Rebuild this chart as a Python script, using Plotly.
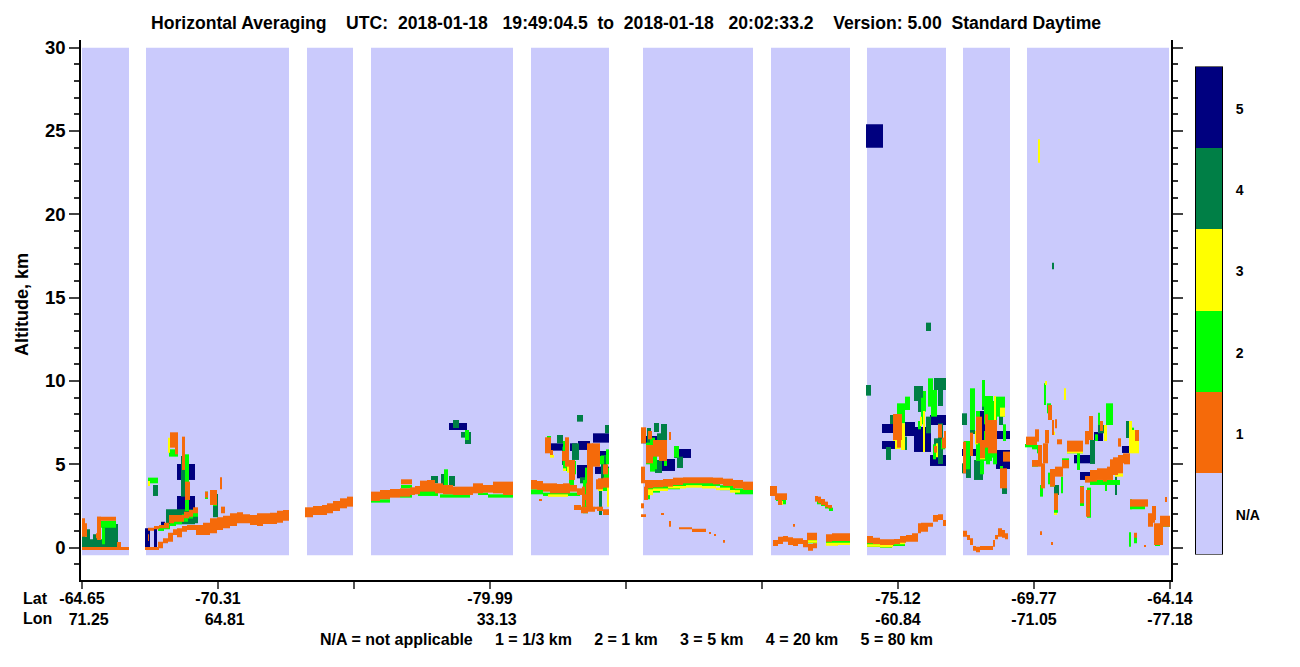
import plotly.graph_objects as go

FONT = "Liberation Sans"
C_NA, C1, C2, C3, C4, C5 = "#CACAFC", "#F56A0A", "#00FF00", "#FFFF00", "#007F46", "#00007F"

# x is the along-track profile position (reference tick spacing 136), y is altitude in km
TICK_X = [82, 218, 354, 490, 626, 762, 898, 1034, 1170]
TICK_LAT = ["-64.65", "-70.31", "", "-79.99", "", "", "-75.12", "-69.77", "-64.14"]
TICK_LON = ["71.25", "64.81", "", "33.13", "", "", "-60.84", "-71.05", "-77.18"]
LEGEND_LABELS = ["N/A", "1", "2", "3", "4", "5"]

PANEL_X0 = [82, 146, 307, 371, 531, 643, 771, 867, 963, 1027]
PANEL_X1 = [129, 289, 353, 513, 609, 753, 850, 946, 1010, 1169]
PANEL_LO = -0.46
PANEL_HI = 30.0

# ---- category 5 (80 km) blocks
B5_X0 = [145, 154, 161, 177, 549, 577, 578, 593, 595, 595, 570, 641, 674, 662, 866, 882, 882, 905, 914, 930, 930,
         962, 978, 996, 996, 449, 1074, 1080, 1094, 1122, 1156]
B5_X1 = [150, 157, 165, 195, 565, 592, 590, 609, 609, 609, 577, 657, 691, 675, 883, 894, 895, 915, 931, 946, 946,
         979, 993, 1010, 1010, 467, 1090, 1090, 1103, 1129, 1163]
B5_LO = [0.04, 0.04, 1.36, 4.06, 5.82, 4.16, 5.86, 6.3, 5.36, 4.42, 5.8, 6.26, 5.38, 4.6, 24.0, 6.88, 5.92, 6.7, 5.74, 7.36, 4.9,
         5.5, 6.06, 6.52, 4.72, 7.06, 5.06, 4.06, 6.4, 5.68, 0.94]
B5_HI = [1.16, 1.16, 1.56, 5.02, 6.26, 4.96, 6.4, 6.86, 5.8, 4.86, 6.26, 6.7, 5.92, 5.32, 25.4, 7.42, 6.4, 7.54, 7.24, 7.96, 5.56,
         5.92, 8.2, 7.0, 5.86, 7.48, 5.56, 4.54, 6.94, 6.1, 1.36]
B5B_X0 = [177]
B5B_X1 = [195]
B5B_LO = [1.96]
B5B_HI = [3.1]

# ---- category 4 (20 km) blocks
G4_X0 = [82, 90, 93, 98, 102, 153, 181, 195, 166, 213, 441, 449, 453, 461, 465, 577, 605, 557, 572, 562, 601, 599, 580,
         654, 661, 657, 647, 655, 677, 866, 886, 914, 918, 926, 934, 938, 938, 934, 890, 903, 926,
         962, 970, 966, 974, 962, 999, 1002, 982, 1054, 1090, 1098, 1126, 1115, 1052, 431]
G4_X1 = [90, 93, 98, 102, 118, 158, 186, 198, 195, 218, 445, 455, 459, 467, 471, 583, 609, 563, 579, 565, 607, 602, 587,
         659, 667, 666, 651, 662, 683, 871, 891, 923, 923, 931, 946, 943, 943, 940, 893, 907, 931,
         967, 975, 971, 983, 966, 1003, 1007, 993, 1059, 1095, 1104, 1130, 1117, 1054, 438]
G4_LO = [0.0, 0.0, 0.0, 0.0, 0.0, 3.1, 3.06, 1.46, 1.4, 1.82, 3.76, 3.7, 7.18, 6.6, 6.22, 7.56, 6.86, 6.26, 5.26, 4.96, 4.06, 1.96, 3.86,
         6.94, 6.46, 5.96, 6.06, 4.48, 4.78, 9.12, 5.26, 8.8, 8.14, 6.86, 9.46, 8.5, 5.02, 5.46, 7.42, 5.86, 13.0,
         7.36, 6.82, 4.18, 4.06, 4.46, 7.36, 3.22, 8.26, 3.16, 5.02, 6.86, 6.58, 3.16, 16.7, 3.86]
G4_HI = [1.1, 0.5, 0.8, 0.5, 1.42, 3.76, 5.5, 1.96, 2.3, 3.22, 4.42, 4.3, 7.66, 6.94, 6.94, 7.96, 7.36, 6.76, 6.26, 6.06, 5.56, 3.56, 4.22,
         7.48, 7.42, 6.86, 7.18, 5.26, 5.46, 9.76, 6.04, 9.7, 8.8, 7.86, 10.18, 9.46, 7.46, 6.56, 7.96, 6.66, 13.5,
         8.06, 7.48, 5.56, 5.26, 5.06, 7.9, 3.66, 9.06, 3.76, 6.46, 7.36, 7.6, 4.26, 17.1, 4.3]

# ---- category 2 (1 km) blocks
L2_X0 = [97, 102, 117, 148, 169, 185, 205, 213, 401, 444, 465, 569, 547, 563, 585, 582, 604, 650, 674, 646, 650,
         897, 905, 928, 931, 923, 970, 982, 984, 995, 976, 990, 964, 984, 1044, 1040, 1032, 1048, 1054, 1061, 1087, 1106, 1130, 1134, 1129, 1080, 1155]
L2_X1 = [116, 105, 121, 158, 178, 189, 208, 217, 412, 448, 469, 574, 551, 569, 589, 586, 609, 655, 679, 650, 655,
         905, 910, 933, 937, 926, 975, 985, 993, 1005, 982, 997, 970, 992, 1046, 1043, 1038, 1051, 1058, 1063, 1091, 1113, 1132, 1137, 1131, 1084, 1160]
L2_LO = [1.2, 0.2, 0.0, 3.86, 5.46, 2.2, 2.92, 2.5, 3.56, 3.76, 6.46, 3.76, 6.0, 4.6, 3.2, 2.1, 3.4, 4.56, 5.4, 2.9, 5.3,
         7.46, 8.26, 8.46, 7.86, 8.16, 7.06, 8.46, 7.4, 7.86, 5.2, 5.4, 4.7, 5.2, 8.56, 3.06, 4.86, 3.8, 2.1, 3.26, 1.8, 7.36, 2.3, 0.26, 0.06, 2.5, 0.1]
L2_HI = [1.62, 1.2, 0.34, 4.2, 5.9, 5.6, 3.36, 3.2, 3.76, 4.7, 7.06, 4.86, 6.7, 6.4, 4.8, 3.4, 4.8, 6.16, 6.1, 3.2, 6.6,
         8.66, 9.06, 10.16, 9.46, 9.4, 9.56, 10.06, 9.1, 9.06, 7.0, 8.8, 6.4, 7.0, 9.86, 3.76, 5.26, 4.5, 3.0, 4.26, 3.6, 8.66, 2.9, 0.82, 0.92, 3.7, 1.0]

# further category 2 detail
L2B_X0 = [158, 164, 170, 176, 182, 188, 193, 1025, 1037, 1047, 1050, 1054, 1062, 1067, 1077, 1080, 1086, 1090, 1105, 1098, 1130, 1163,
          776, 781, 817, 821, 825, 829, 563, 583, 598, 598,
          646, 654, 659, 664, 573, 600, 606, 918, 921, 933, 941, 964, 976, 993, 1003, 1000, 986, 980, 1130, 1095]
L2B_X1 = [164, 170, 176, 182, 188, 193, 198, 1037, 1040, 1051, 1055, 1057, 1069, 1083, 1080, 1084, 1091, 1120, 1107, 1100, 1145, 1170,
          781, 786, 821, 825, 829, 833, 569, 588, 609, 609,
          650, 657, 662, 667, 576, 604, 609, 921, 923, 936, 945, 968, 980, 997, 1006, 1003, 990, 984, 1134, 1098]
L2B_LO = [1.0, 1.1, 1.3, 1.4, 1.55, 1.75, 1.85, 6.02, 5.66, 8.06, 3.66, 1.96, 5.16, 5.66, 4.66, 2.56, 2.66, 3.76, 3.4, 7.36, 2.3, 1.26,
          2.8, 2.6, 2.6, 2.5, 2.35, 2.2, 4.6, 2.06, 3.56, 3.4,
          5.0, 4.7, 5.3, 4.9, 4.4, 5.0, 5.0, 7.1, 7.4, 5.3, 5.9, 5.4, 7.6, 5.0, 6.4, 4.3, 5.0, 4.4, 6.2, 6.4]
L2B_HI = [1.2, 1.4, 1.6, 1.8, 2.0, 2.1, 2.25, 6.22, 6.16, 8.66, 4.26, 2.36, 5.36, 5.86, 6.06, 3.06, 3.46, 4.06, 3.76, 8.1, 2.6, 1.9,
          3.2, 2.9, 2.8, 2.7, 2.55, 2.4, 5.26, 4.06, 3.86, 3.7,
          6.3, 5.6, 6.1, 5.4, 5.2, 5.5, 5.9, 7.6, 9.0, 6.2, 6.5, 6.4, 8.2, 7.6, 7.4, 4.9, 6.1, 6.0, 7.2, 6.8]

# ---- category 3 (5 km) blocks
Y3_X0 = [85, 148, 168, 565, 547, 567, 590, 895, 901, 923, 936, 920, 980, 994, 1000, 1038, 1064, 1104, 1129, 1132, 1114, 975, 1045]
Y3_X1 = [87, 150, 170, 567, 549, 570, 593, 900, 905, 925, 938, 922, 985, 996, 1005, 1040, 1066, 1107, 1132, 1139, 1116, 978, 1047]
Y3_LO = [0.66, 3.7, 5.7, 5.0, 5.7, 4.5, 4.7, 5.92, 5.86, 5.74, 5.42, 7.3, 5.3, 7.46, 7.86, 23.1, 8.86, 6.4, 5.66, 5.66, 4.6, 6.2, 9.76]
Y3_HI = [1.1, 4.0, 6.6, 6.3, 6.4, 4.9, 5.6, 6.56, 7.46, 8.2, 6.26, 7.86, 6.4, 9.1, 8.4, 24.5, 9.56, 7.36, 7.6, 7.06, 5.2, 7.0, 10.0]

# further category 3 detail
Y3B_X0 = [550, 563, 598, 607, 1067, 1052, 1115, 1054, 781, 893]
Y3B_X1 = [554, 566, 603, 609, 1083, 1055, 1123, 1057, 783, 895]
Y3B_LO = [5.4, 4.6, 3.4, 2.46, 5.66, 6.76, 4.26, 1.96, 2.56, 6.4]
Y3B_HI = [5.56, 4.76, 3.56, 3.66, 5.8, 6.96, 4.46, 2.1, 2.8, 7.0]

# ---- category 1 (1/3 km) isolated features
O1_X0 = [82, 82, 82, 96, 97, 97, 117, 145, 148, 170, 175, 182, 185, 205, 210, 220, 221, 401,
         545, 550, 565, 569, 587, 592, 598, 582, 539,
         644, 641, 641, 661, 669, 679, 692, 709, 714, 723, 641, 646, 653, 669,
         893, 938, 942, 976, 988, 980, 1003, 1000, 963,
         793, 1026, 1035, 1038, 1041, 1043, 1045, 1048, 1052, 1055, 1032, 1050, 1055, 1062, 1054, 1067, 1089, 1118, 1135, 1080, 1086,
         1130, 1148, 1152, 1154, 1160, 1134, 1040, 1051, 1144, 1165, 1085, 1100]
O1_X1 = [129, 85, 87, 100, 101, 116, 121, 159, 149, 178, 178, 185, 190, 208, 217, 222, 225, 412,
         551, 553, 569, 575, 593, 600, 609, 585, 542,
         648, 644, 646, 664, 671, 692, 706, 711, 716, 725, 646, 653, 667, 671,
         902, 942, 946, 982, 997, 985, 1010, 1007, 966,
         795, 1037, 1039, 1042, 1045, 1048, 1049, 1052, 1054, 1057, 1038, 1055, 1063, 1069, 1058, 1083, 1093, 1121, 1139, 1084, 1090,
         1148, 1153, 1156, 1163, 1170, 1137, 1042, 1053, 1146, 1167, 1089, 1103]
O1_LO = [-0.14, 0.86, 0.66, 0.56, 0.46, 1.62, 0.0, -0.14, 0.4, 6.0, 5.6, 4.66, 2.86, 3.0, 2.56, 3.5, 2.06, 3.8,
         5.66, 5.56, 4.86, 4.06, 2.26, 4.86, 3.76, 2.46, 2.82,
         2.86, 2.36, 1.84, 1.96, 1.26, 1.1, 0.94, 0.84, 0.7, 0.3, 6.26, 5.06, 5.46, 6.46,
         6.46, 6.6, 5.96, 6.26, 5.66, 5.36, 5.16, 3.56, 4.46,
         1.26, 6.16, 6.36, 4.86, 3.56, 5.06, 6.26, 7.66, 6.76, 7.16, 4.86, 3.66, 4.26, 4.76, 2.26, 5.76, 6.46, 6.06, 6.4, 2.66, 1.86,
         2.46, 1.26, 1.66, 0.16, 1.26, 0.6, 0.76, 0.16, 0.06, 2.74, 6.2, 7.0]
O1_HI = [0.04, 1.76, 1.46, 0.86, 1.86, 1.86, 0.34, 0.04, 0.8, 6.92, 6.3, 6.66, 3.96, 3.36, 3.46, 4.22, 2.46, 4.1,
         6.62, 5.86, 6.62, 5.26, 6.26, 6.26, 4.16, 3.66, 2.92,
         3.66, 2.66, 2.0, 2.06, 1.6, 1.22, 1.14, 0.94, 0.82, 0.46, 7.22, 6.16, 6.46, 6.94,
         8.02, 7.4, 6.6, 7.86, 7.66, 6.46, 5.76, 4.76, 6.36,
         1.42, 6.66, 7.1, 6.16, 5.06, 6.26, 7.06, 8.56, 7.66, 7.7, 5.26, 4.72, 4.86, 5.26, 3.26, 6.42, 7.9, 6.56, 7.06, 3.66, 3.46,
         2.9, 2.06, 2.5, 1.46, 1.92, 0.9, 0.98, 0.34, 0.16, 3.04, 7.0, 7.6]

# further category 1 detail
O1B_X0 = [770, 775, 778, 586, 1057, 1150, 1110, 1075, 897, 944, 934, 970, 985, 993, 1085, 1124, 648, 659, 562, 603]
O1B_X1 = [777, 787, 782, 593, 1062, 1155, 1122, 1079, 901, 946, 937, 973, 988, 996, 1090, 1130, 652, 667, 565, 608]
O1B_LO = [3.1, 2.86, 2.56, 2.46, 6.2, 1.5, 4.5, 5.8, 6.0, 6.2, 5.7, 5.5, 6.0, 6.0, 3.9, 5.0, 6.5, 5.2, 5.2, 4.4]
O1B_HI = [3.7, 3.26, 3.2, 3.86, 6.5, 1.9, 5.3, 6.3, 7.0, 7.0, 6.1, 6.9, 8.0, 6.6, 4.3, 5.6, 7.0, 5.9, 5.8, 5.0]

# ---- continuous category 1 ribbons: column edges, then upper and lower altitude of each column
R_A_X = [158, 163, 168, 173, 177, 182, 187, 196, 203, 210, 217, 223, 230, 237, 243, 250, 257, 263, 270, 277, 283, 289]
R_A_HI = [0.36, 0.56, 0.9, 1.1, 1.16, 1.3, 1.36, 1.36, 1.5, 1.76, 1.82, 1.92, 2.06, 2.12, 2.0, 1.96, 2.06, 2.06, 2.1, 2.22, 2.26]
R_A_LO = [-0.04, 0.26, 0.36, 0.76, 0.62, 0.96, 1.06, 0.76, 0.76, 0.86, 1.06, 1.16, 1.3, 1.46, 1.46, 1.36, 1.3, 1.42, 1.42, 1.5, 1.62]

R_B_X = [148, 154, 159, 164, 169, 174, 179, 184, 189, 193, 198]
R_B_HI = [1.2, 1.3, 1.36, 1.5, 1.96, 1.96, 1.96, 2.16, 2.26, 2.42, 2.5]
R_B_LO = [1.02, 1.1, 1.16, 1.16, 1.46, 1.56, 1.56, 1.76, 1.86, 2.06, 2.06]

R_C_X = [305, 313, 322, 327, 333, 340, 347, 353]
R_C_HI = [2.42, 2.5, 2.56, 2.66, 2.8, 2.96, 3.06, 3.12]
R_C_LO = [1.82, 1.96, 1.96, 2.06, 2.2, 2.36, 2.46, 2.52]

R_D_X = [371, 380, 390, 400, 410, 415, 420, 427, 435, 443, 453, 463, 473, 483, 493, 503, 513]
R_D_HI = [3.36, 3.46, 3.52, 3.56, 3.62, 3.7, 4.02, 4.06, 3.86, 3.76, 3.66, 3.66, 3.86, 3.76, 3.96, 3.96]
R_D_LO = [2.8, 2.9, 3.0, 3.06, 3.16, 3.2, 3.36, 3.36, 3.26, 3.2, 3.16, 3.16, 3.26, 3.3, 3.26, 3.16]

R_E_X = [531, 537, 543, 550, 557, 563, 570, 577, 582, 586]
R_E_HI = [4.06, 4.0, 3.86, 3.86, 3.82, 3.86, 3.76, 3.56, 3.2, 3.0]
R_E_LO = [3.5, 3.46, 3.36, 3.26, 3.26, 3.26, 3.36, 3.16, 2.86, 2.6]

R_F_X = [574, 581, 588, 595, 597, 603, 609]
R_F_HI = [2.56, 2.46, 2.46, 2.46, 2.46, 2.3, 2.2]
R_F_LO = [2.26, 2.06, 2.16, 2.3, 2.2, 1.96, 1.86]

R_G_X = [596, 603, 609]
R_G_HI = [4.1, 4.2, 4.26]
R_G_LO = [3.5, 3.6, 3.76]

R_H_X = [641, 645, 653, 663, 673, 683, 693, 703, 713, 723, 733, 743, 753]
R_H_HI = [4.86, 4.06, 4.06, 4.12, 4.2, 4.22, 4.22, 4.22, 4.2, 4.14, 4.06, 3.96, 3.86]
R_H_LO = [3.86, 3.56, 3.62, 3.66, 3.76, 3.86, 3.86, 3.86, 3.8, 3.7, 3.56, 3.46, 3.36]

R_I_X = [773, 778, 783, 788, 793, 798, 803, 808, 813, 817]
R_I_HI = [0.46, 0.66, 0.7, 0.62, 0.56, 0.56, 0.46, 0.22, 0.26, 0.3]
R_I_LO = [0.1, 0.22, 0.36, 0.16, 0.1, 0.22, 0.02, -0.18, -0.04, 0.06]

R_J_X = [807, 817]
R_J_HI = [0.9]
R_J_LO = [0.46]

R_K_X = [815, 818, 821, 825, 828, 832]
R_K_HI = [3.1, 3.06, 2.92, 2.76, 2.56]
R_K_LO = [2.76, 2.66, 2.56, 2.42, 2.36]

R_L_X = [826, 832, 838, 844, 850]
R_L_HI = [0.8, 0.86, 0.86, 0.86]
R_L_LO = [0.36, 0.4, 0.4, 0.4]

R_M_X = [867, 873, 880, 887, 894, 900, 906, 912, 918, 921, 925, 928, 933, 938, 943, 946]
R_M_HI = [0.7, 0.6, 0.5, 0.5, 0.52, 0.7, 0.76, 0.86, 1.46, 1.5, 1.5, 1.5, 1.96, 2.0, 1.66]
R_M_LO = [0.26, 0.22, 0.16, 0.16, 0.22, 0.3, 0.36, 0.36, 0.86, 0.96, 0.96, 1.26, 1.56, 1.66, 1.3]

R_N_X = [963, 967, 970, 973, 976, 980, 985, 990, 993, 995, 998, 1002, 1005, 1008]
R_N_HI = [1.02, 0.76, 0.56, 0.1, 0.06, 0.1, 0.1, 0.1, 0.46, 0.76, 1.16, 1.06, 0.86]
R_N_LO = [0.66, 0.46, 0.16, -0.18, -0.28, -0.14, -0.14, -0.14, 0.06, 0.5, 0.66, 0.6, 0.5]

R_O_X = [1090, 1097, 1103, 1107, 1113, 1118, 1123, 1130]
R_O_HI = [4.66, 4.76, 4.76, 4.86, 5.42, 5.56, 5.66]
R_O_LO = [3.96, 4.06, 3.96, 4.06, 4.36, 4.46, 5.06]

RIBBONS = [(R_A_X, R_A_HI, R_A_LO), (R_B_X, R_B_HI, R_B_LO), (R_C_X, R_C_HI, R_C_LO), (R_D_X, R_D_HI, R_D_LO),
           (R_E_X, R_E_HI, R_E_LO), (R_F_X, R_F_HI, R_F_LO), (R_G_X, R_G_HI, R_G_LO), (R_H_X, R_H_HI, R_H_LO),
           (R_I_X, R_I_HI, R_I_LO), (R_J_X, R_J_HI, R_J_LO), (R_K_X, R_K_HI, R_K_LO), (R_L_X, R_L_HI, R_L_LO),
           (R_M_X, R_M_HI, R_M_LO), (R_N_X, R_N_HI, R_N_LO), (R_O_X, R_O_HI, R_O_LO)]

# ---- fringes under the ribbons (lime, yellow): x0, x1, low, high
FL_X0 = [371, 400, 418, 440, 478, 488, 531, 543, 557, 646, 660, 680, 700, 720, 735, 808, 826, 838, 867, 880, 892, 1032]
FL_X1 = [390, 412, 438, 470, 488, 513, 543, 557, 580, 660, 680, 700, 720, 735, 753, 817, 838, 850, 880, 892, 905, 1037]
FL_LO = [2.7, 3.0, 3.1, 3.0, 3.2, 3.0, 3.2, 3.1, 3.1, 3.3, 3.5, 3.7, 3.7, 3.45, 3.2, 0.26, 0.2, 0.2, 0.04, 0.0, 0.1, 5.9]
FL_HI = [2.9, 3.2, 3.4, 3.2, 3.3, 3.2, 3.5, 3.3, 3.3, 3.7, 3.8, 3.95, 3.9, 3.75, 3.55, 0.5, 0.4, 0.4, 0.3, 0.2, 0.3, 6.2]

FY_X0 = [548, 646, 653, 668, 686, 702, 716, 730, 808, 826, 838, 867, 880, 893]
FY_X1 = [568, 653, 668, 686, 702, 716, 730, 740, 817, 838, 850, 880, 893, 905]
FY_LO = [3.05, 3.15, 3.4, 3.55, 3.6, 3.55, 3.45, 3.3, 0.3, 0.12, 0.16, 0.06, 0.02, 0.2]
FY_HI = [3.2, 3.5, 3.55, 3.7, 3.75, 3.7, 3.6, 3.45, 0.45, 0.3, 0.3, 0.2, 0.16, 0.34]

NA_PATCH_X0 = [150]
NA_PATCH_X1 = [153]
NA_PATCH_LO = [0.04]
NA_PATCH_HI = [1.16]


def blocks(x0, x1, lo, hi, color, name):
    return go.Bar(
        x=[(a + b) / 2 for a, b in zip(x0, x1)],
        width=[b - a for a, b in zip(x0, x1)],
        base=lo,
        y=[h - l for h, l in zip(hi, lo)],
        marker=dict(color=color, line=dict(width=0)),
        name=name, showlegend=False, hoverinfo="skip",
    )


fig = go.Figure()
fig.add_trace(blocks(PANEL_X0, PANEL_X1, [PANEL_LO] * len(PANEL_X0), [PANEL_HI] * len(PANEL_X0), C_NA, "N/A"))
fig.add_trace(blocks(B5_X0, B5_X1, B5_LO, B5_HI, C5, "5"))
fig.add_trace(blocks(B5B_X0, B5B_X1, B5B_LO, B5B_HI, C5, "5"))
fig.add_trace(blocks(NA_PATCH_X0, NA_PATCH_X1, NA_PATCH_LO, NA_PATCH_HI, C_NA, "N/A"))
fig.add_trace(blocks(G4_X0, G4_X1, G4_LO, G4_HI, C4, "4"))
fig.add_trace(blocks(L2_X0, L2_X1, L2_LO, L2_HI, C2, "2"))
fig.add_trace(blocks(L2B_X0, L2B_X1, L2B_LO, L2B_HI, C2, "2"))
fig.add_trace(blocks(FL_X0, FL_X1, FL_LO, FL_HI, C2, "2"))
fig.add_trace(blocks(Y3_X0, Y3_X1, Y3_LO, Y3_HI, C3, "3"))
fig.add_trace(blocks(Y3B_X0, Y3B_X1, Y3B_LO, Y3B_HI, C3, "3"))
fig.add_trace(blocks(FY_X0, FY_X1, FY_LO, FY_HI, C3, "3"))
fig.add_trace(blocks(O1_X0, O1_X1, O1_LO, O1_HI, C1, "1"))
fig.add_trace(blocks(O1B_X0, O1B_X1, O1B_LO, O1B_HI, C1, "1"))
for rx, rhi, rlo in RIBBONS:
    fig.add_trace(blocks(rx[:-1], rx[1:], rlo, rhi, C1, "1"))

# legend strip on its own axes
fig.add_trace(go.Heatmap(
    x=[0], y=list(range(6)), z=[[i] for i in range(6)], zmin=-0.5, zmax=5.5,
    colorscale=[[0, C_NA], [1 / 6, C_NA], [1 / 6, C1], [2 / 6, C1], [2 / 6, C2], [3 / 6, C2],
                [3 / 6, C3], [4 / 6, C3], [4 / 6, C4], [5 / 6, C4], [5 / 6, C5], [1, C5]],
    showscale=False, xaxis="x2", yaxis="y2", hoverinfo="skip", xgap=0, ygap=0,
))

W, H = 1300, 667
bold = dict(family=FONT, color="black", weight="bold")
ticktext = [(f"{a}<br>{chr(160) * (3 if b and not b.startswith('-') else 0)}{b}" if a else "") for a, b in zip(TICK_LAT, TICK_LON)]

fig.update_layout(
    width=W, height=H, margin=dict(l=0, r=0, t=0, b=0, autoexpand=False),
    paper_bgcolor="white", plot_bgcolor="white", barmode="overlay", showlegend=False,
    title=dict(text="Horizontal Averaging    UTC:  2018-01-18   19:49:04.5  to  2018-01-18   20:02:33.2    Version: 5.00  Standard Daytime",
               x=626 / W, xanchor="center", y=1 - 23 / H, yanchor="middle", font=dict(size=17.6, **bold)),
    xaxis=dict(domain=[81 / W, 1171 / W], range=[81, 1171], showgrid=False, zeroline=False,
               tickmode="array", tickvals=TICK_X, ticktext=ticktext, ticks="outside", ticklen=7, tickwidth=1.5, tickcolor="#555",
               showline=True, linecolor="black", linewidth=1.5, tickfont=dict(size=16, **bold), tickangle=0,
               ticklabelstandoff=-4, anchor="y", automargin=False),
    yaxis=dict(domain=[1 - 580.3 / H, 1 - 40 / H], range=[-1.96, 30.46], showgrid=False, zeroline=False,
               tickmode="array", tickvals=[0, 5, 10, 15, 20, 25, 30], ticks="outside", ticklen=10, tickwidth=1.5, tickcolor="#444",
               minor=dict(tickmode="array", tickvals=[v for v in range(-1, 31) if v % 5], ticks="outside", ticklen=5, tickwidth=1.5, tickcolor="#333"),
               showline=True, linecolor="black", linewidth=1.5, mirror="ticks", tickfont=dict(size=18.5, **bold),
               automargin=False, anchor="x"),
    xaxis2=dict(domain=[1196 / W, 1222 / W], anchor="y2", showticklabels=False, ticks="", showgrid=False, zeroline=False,
                showline=True, linecolor="#666", linewidth=1, mirror=True, automargin=False),
    yaxis2=dict(domain=[1 - 554 / H, 1 - 67 / H], anchor="x2", side="right", range=[-0.5, 5.5],
                tickmode="array", tickvals=[i - 0.02 for i in range(6)], ticktext=LEGEND_LABELS, ticks="", showgrid=False, zeroline=False,
                showline=True, linecolor="black", linewidth=1, mirror=True, tickfont=dict(size=14, **bold),
                ticklabelstandoff=10, automargin=False),
    annotations=[
        dict(text="Altitude, km", xref="paper", yref="paper", x=22 / W, y=1 - 305 / H, textangle=-90, showarrow=False,
             font=dict(size=18, **bold), xanchor="center", yanchor="middle"),
        dict(text="Lat", xref="paper", yref="paper", x=21 / W, y=1 - 598 / H, showarrow=False, xanchor="left", yanchor="middle",
             font=dict(size=16, **bold)),
        dict(text="Lon", xref="paper", yref="paper", x=21 / W, y=1 - 618 / H, showarrow=False, xanchor="left", yanchor="middle",
             font=dict(size=16, **bold)),
        dict(text="N/A = not applicable     1 = 1/3 km     2 = 1 km     3 = 5 km     4 = 20 km     5 = 80 km",
             xref="paper", yref="paper", x=626 / W, y=1 - 639 / H, showarrow=False, xanchor="center", yanchor="middle",
             font=dict(size=16, **bold)),
    ],
)

fig.write_html("out.html", config={"responsive": False, "displayModeBar": False},
               post_script="document.body.style.margin='0';document.body.style.overflow='hidden';")
